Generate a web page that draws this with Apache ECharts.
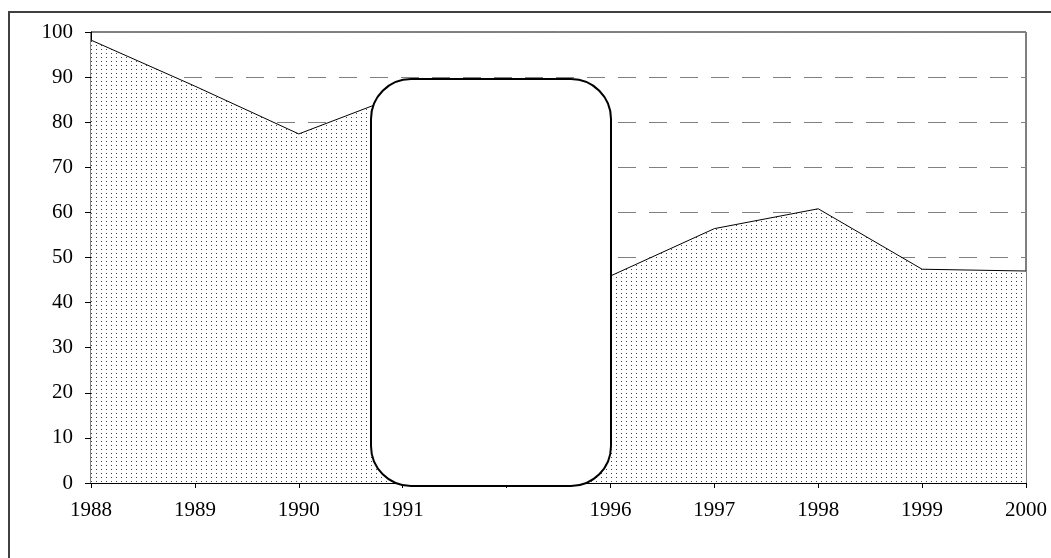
<!DOCTYPE html>
<html>
<head>
<meta charset="utf-8">
<script src="https://cdn.jsdelivr.net/npm/echarts@6/dist/echarts.min.js"></script>
<style>
html,body{margin:0;padding:0;background:#fff;}
#chart{width:1051px;height:558px;}
</style>
</head>
<body>
<div id="chart"></div>
<script>
const categories = ['1988', '1989', '1990', '1991', '', '1996', '1997', '1998', '1999', '2000'];
const values = [98.2, 88, 77.4, 86.2, 60, 45.9, 56.4, 60.8, 47.4, 47.0];
const yTicks = [0, 10, 20, 30, 40, 50, 60, 70, 80, 90, 100];

// dotted fill pattern
const tile = document.createElement('canvas');
tile.width = 5; tile.height = 4;
const tctx = tile.getContext('2d');
tctx.fillStyle = '#fff';
tctx.fillRect(0, 0, 5, 4);
tctx.fillStyle = '#444';
tctx.fillRect(1, 1, 1, 1);

const chart = echarts.init(document.getElementById('chart'), null, {renderer: 'canvas'});
chart.setOption({
  animation: false,
  backgroundColor: '#fff',
  grid: {left: 91, right: 25, top: 32, bottom: 75, show: true, borderColor: '#000', borderWidth: 1, backgroundColor: 'transparent'},
  xAxis: {
    type: 'category',
    data: categories,
    boundaryGap: false,
    axisLine: {lineStyle: {color: '#000', width: 1}},
    axisTick: {show: true, length: 5, lineStyle: {color: '#000'}},
    axisLabel: {color: '#000', fontFamily: 'Liberation Serif', fontSize: 21, margin: 17, interval: 0},
    splitLine: {show: false}
  },
  yAxis: {
    type: 'value',
    min: yTicks[0],
    max: yTicks[yTicks.length - 1],
    interval: 10,
    axisLine: {show: true, lineStyle: {color: '#000', width: 1}},
    axisTick: {show: true, length: 6, lineStyle: {color: '#000'}},
    axisLabel: {color: '#000', fontFamily: 'Liberation Serif', fontSize: 21, margin: 18},
    splitLine: {show: true, lineStyle: {color: '#808080', type: [18, 13], width: 1}}
  },
  series: [{
    type: 'line',
    data: values,
    symbol: 'none',
    lineStyle: {color: '#000', width: 1},
    areaStyle: {color: {image: tile, repeat: 'repeat'}, opacity: 1},
    z: 3
  }],
  graphic: [
    {type: 'rect', shape: {x: 9, y: 12, width: 1200, height: 700}, style: {fill: 'none', stroke: '#404040', lineWidth: 2}, z: 100},
    {type: 'rect', shape: {x: 371, y: 79, width: 240, height: 407, r: 40}, style: {fill: '#fff', stroke: '#000', lineWidth: 2}, z: 100}
  ]
});
</script>
</body>
</html>
